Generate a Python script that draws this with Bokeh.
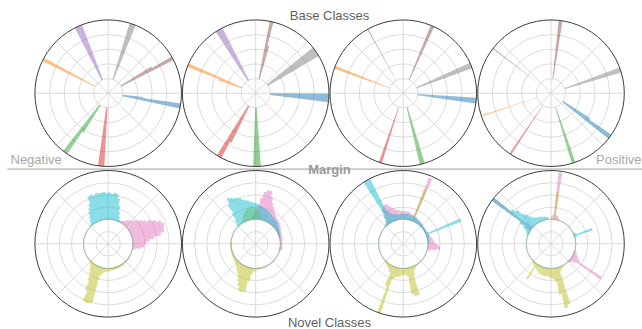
import numpy as np
from bokeh.plotting import figure
from bokeh.models import Range1d, Label
from bokeh.embed import file_html
from bokeh.resources import INLINE

W, H = 642, 329
FONT = "Liberation Sans"

# ---------------- data ----------------
base_class_names = ["blue", "orange", "green", "red", "purple", "brown", "gray"]
base_class_colors = ["#1f77b4", "#ff7f0e", "#2ca02c", "#d62728", "#9467bd", "#8c564b", "#7f7f7f"]
novel_class_names = ["pink", "olive", "cyan"]
novel_class_colors = ["#e377c2", "#bcbd22", "#17becf"]

# base classes: (class, start angle [deg], end angle [deg], outer radius)
base_margin_1 = [
    ("blue", -12, -8, 1.0), ("blue", -8, -6, 0.48),
    ("orange", 151, 154, 1.0),
    ("green", 232, 236, 1.0), ("green", 236, 238, 0.64),
    ("red", 262, 267, 1.0),
    ("purple", 111, 117, 1.0),
    ("brown", 27, 30, 1.0), ("brown", 30, 32, 0.69),
    ("gray", 68, 73, 1.0),
]
base_margin_2 = [
    ("blue", -7, -0.5, 1.0),
    ("orange", 156, 159, 1.0), ("orange", 159, 161, 0.54),
    ("green", 268, 274, 1.0),
    ("red", 238, 242, 1.0), ("red", 242, 244, 0.75),
    ("purple", 117, 123, 1.0),
    ("brown", 74, 76, 0.67), ("brown", 76, 79, 1.0),
    ("gray", 30.5, 38.5, 1.0),
]
base_margin_3 = [
    ("blue", -8, -3.5, 1.0),
    ("orange", 158, 160.5, 1.0),
    ("green", 283, 287, 1.0),
    ("red", 250.5, 253, 1.0),
    ("purple", 118.5, 119.5, 1.0),
    ("brown", 65, 68, 1.0),
    ("gray", 20, 24.5, 1.0),
]
base_margin_4 = [
    ("blue", -38.5, -34.5, 1.0), ("blue", -34.5, -32.5, 0.64),
    ("orange", 197.5, 198.5, 1.0),
    ("green", -73.5, -70.5, 1.0),
    ("red", 235.5, 237, 1.0),
    ("purple", 141.8, 142.8, 1.0),
    ("brown", 81, 84, 1.0),
    ("gray", 16.5, 20.5, 1.0),
]

# novel classes: histograms in 3-degree bins, (first bin start [deg], outer radii)
pink_1 = [(-15, [0.35, 0.38, 0.45, 0.49, 0.50, 0.52, 0.56, 0.63, 0.73, 0.78, 0.79, 0.81, 0.78, 0.72,
                 0.66, 0.60, 0.56, 0.52, 0.49, 0.46, 0.44, 0.42, 0.40, 0.38, 0.37, 0.36, 0.35])]
olive_1 = [(222, [0.35, 0.36, 0.38, 0.40, 0.44, 0.49, 0.57, 0.70, 0.85, 0.86, 0.84, 0.44, 0.41, 0.39,
                  0.38, 0.38, 0.37, 0.37, 0.36, 0.37, 0.36, 0.36, 0.37, 0.36, 0.36, 0.36, 0.35, 0.36,
                  0.35, 0.35, 0.35, 0.35, 0.35, 0.35, 0.35, 0.35])]
cyan_1 = [(63, [0.36, 0.40, 0.46, 0.54, 0.63, 0.69, 0.70, 0.68, 0.70, 0.69, 0.71, 0.70, 0.70, 0.71,
                0.69, 0.71, 0.70, 0.60, 0.55, 0.50, 0.45, 0.41, 0.37, 0.35])]

pink_2 = [(-18, [0.35, 0.36, 0.37, 0.37, 0.36, 0.37, 0.37, 0.36, 0.37, 0.37, 0.38, 0.37, 0.38, 0.38,
                 0.38, 0.39, 0.40, 0.41, 0.42, 0.43, 0.43, 0.44, 0.45, 0.46, 0.48, 0.50, 0.53, 0.56,
                 0.60, 0.67, 0.75, 0.75, 0.72, 0.63, 0.53, 0.47, 0.43, 0.40, 0.37])]
olive_2 = [(78, [0.40, 0.44, 0.47, 0.49, 0.50, 0.51, 0.51, 0.50, 0.50, 0.48, 0.46, 0.44, 0.41, 0.38, 0.36]),
           (177, [0.35, 0.35, 0.35, 0.35, 0.35, 0.35, 0.35, 0.36, 0.35, 0.36, 0.36, 0.36, 0.37, 0.37,
                  0.38, 0.38, 0.39, 0.41, 0.43, 0.45, 0.47, 0.51, 0.56, 0.62, 0.68, 0.69, 0.67, 0.52,
                  0.42, 0.38, 0.37, 0.36, 0.36, 0.35, 0.35, 0.35, 0.35, 0.35])]
cyan_2 = [(15, [0.35, 0.36, 0.36, 0.37, 0.37, 0.38, 0.38, 0.39, 0.40, 0.41, 0.42, 0.42, 0.43, 0.44,
                0.44, 0.45, 0.46, 0.47, 0.48, 0.49, 0.50, 0.51, 0.52, 0.54, 0.55, 0.56, 0.57, 0.58,
                0.60, 0.61, 0.63, 0.66, 0.67, 0.69, 0.71, 0.73, 0.65, 0.52, 0.43, 0.37])]

pink_3 = [(-15, [0.38, 0.45, 0.51, 0.50, 0.46, 0.43, 0.42, 0.41, 0.40, 0.39, 0.38, 0.37, 0.37, 0.36,
                 0.36, 0.36, 0.36, 0.36, 0.36, 0.36, 0.37, 0.37, 0.38, 0.38, 0.39, 0.40, 0.41, 0.97,
                 0.42, 0.42, 0.43, 0.44, 0.44, 0.45, 0.44, 0.45, 0.45, 0.46, 0.47, 0.48, 0.51, 0.54,
                 0.58, 0.59, 0.58, 0.55, 0.45, 0.38, 0.36])]
olive_3 = [(66, [0.80]),
           (222, [0.35, 0.36, 0.36, 0.37, 0.38, 0.39, 0.41, 0.43, 0.62, 1.0, 0.50, 0.47, 0.46, 0.45,
                  0.44, 0.43, 0.43, 0.42, 0.45, 0.70, 0.73, 0.73, 0.45, 0.39, 0.37, 0.36, 0.35, 0.35])]
cyan_3 = [(0, [0.35, 0.35, 0.36, 0.36, 0.36, 0.37, 0.37, 0.85, 0.37, 0.36, 0.36, 0.36, 0.36, 0.36,
               0.37, 0.37, 0.37, 0.38, 0.38, 0.38, 0.39, 0.39, 0.40, 0.40, 0.40, 0.40, 0.41, 0.41,
               0.41, 0.41, 0.41, 0.41, 0.40, 0.41, 0.42, 0.42, 0.43, 0.45, 0.50, 1.0, 1.0, 0.48,
               0.40, 0.37, 0.36, 0.35])]

pink_4 = [(-45, [0.36, 0.38, 0.42, 0.83, 0.46, 0.42, 0.40, 0.38, 0.37, 0.36]),
          (72, [0.37, 0.39, 0.40, 0.98, 0.40, 0.38]),
          (138, [0.45, 1.0, 0.42])]
olive_4 = [(81, [0.71]),
           (222, [0.35, 0.36, 0.37, 0.38, 0.58, 0.39, 0.41, 0.42, 0.43, 0.44, 0.44, 0.45, 0.45, 0.44,
                  0.45, 0.46, 0.47, 0.48, 0.52, 0.70, 0.90, 0.86, 0.40, 0.37, 0.36, 0.35])]
cyan_4 = [(15, [0.37, 0.60, 0.37]),
          (96, [0.37, 0.37, 0.38, 0.38, 0.39, 0.40, 0.40, 0.41, 0.42, 0.43, 0.47, 0.52, 0.56, 0.65,
                0.71, 1.0, 0.52, 0.44, 0.40, 0.37, 0.36])]

base_panels = [base_margin_1, base_margin_2, base_margin_3, base_margin_4]
novel_panels = [
    {"pink": pink_1, "olive": olive_1, "cyan": cyan_1},
    {"pink": pink_2, "olive": olive_2, "cyan": cyan_2},
    {"pink": pink_3, "olive": olive_3, "cyan": cyan_3},
    {"pink": pink_4, "olive": olive_4, "cyan": cyan_4},
]

BIN_DEG = 3.0
BASE_ORIGIN = 0.2
NOVEL_ORIGIN = 1.0 / 3.0
BASE_RINGS = [0.2, 0.4, 0.6, 0.8]
NOVEL_RINGS = [1 / 6, 2 / 6, 3 / 6, 4 / 6, 5 / 6]
SPOKES = [0, 45, 90, 135, 180, 225, 270, 315]

# ---------------- layout ----------------
COL_X = [107.7, 255.2, 402.8, 550.5]
TOP_Y = H - 92.7
BOT_Y = H - 243.3
RADIUS = 73.3

p = figure(width=W, height=H, x_range=Range1d(0, W), y_range=Range1d(0, H),
           output_backend="svg", toolbar_location=None,
           x_axis_type=None, y_axis_type=None, min_border=0)
p.xgrid.visible = False
p.ygrid.visible = False
p.outline_line_color = None
p.background_fill_color = "white"
p.border_fill_color = "white"


def outline(cx, cy, r0, bins):
    xs, ys = [], []
    for a0, a1, r in bins:
        n = max(2, int(np.ceil(abs(a1 - a0) / 0.5)) + 1)
        t = np.radians(np.linspace(a0, a1, n))
        xs.extend(cx + RADIUS * r * np.cos(t))
        ys.extend(cy + RADIUS * r * np.sin(t))
    a_start, a_end = bins[0][0], bins[-1][1]
    n = max(2, int(np.ceil(abs(a_end - a_start) / 0.5)) + 1)
    t = np.radians(np.linspace(a_end, a_start, n))
    xs.extend(cx + RADIUS * r0 * np.cos(t))
    ys.extend(cy + RADIUS * r0 * np.sin(t))
    return [float(v) for v in xs], [float(v) for v in ys]


def draw_grid(cx, cy, rings):
    p.circle(x=[cx] * len(rings), y=[cy] * len(rings), radius=[RADIUS * r for r in rings],
             fill_color=None, line_color="#d2d2d2", line_width=0.8)
    t = np.radians(SPOKES)
    p.segment(x0=[cx] * len(SPOKES), y0=[cy] * len(SPOKES),
              x1=list(cx + RADIUS * np.cos(t)), y1=list(cy + RADIUS * np.sin(t)),
              line_color="#d2d2d2", line_width=0.8)


def draw_border(cx, cy):
    p.circle(x=[cx], y=[cy], radius=[RADIUS], fill_color=None,
             line_color="#3c3c3c", line_width=1.0)


# top row: base classes
for cx, panel in zip(COL_X, base_panels):
    draw_grid(cx, TOP_Y, BASE_RINGS)
    for name, color in zip(base_class_names, base_class_colors):
        bins = sorted([(a0, a1, r) for (c, a0, a1, r) in panel if c == name])
        if not bins:
            continue
        xs, ys = outline(cx, TOP_Y, BASE_ORIGIN, bins)
        p.patch(xs, ys, fill_color=color, fill_alpha=0.5, line_color=None)
    draw_border(cx, TOP_Y)

# bottom row: novel classes
for cx, panel in zip(COL_X, novel_panels):
    draw_grid(cx, BOT_Y, NOVEL_RINGS)
    for name, color in zip(novel_class_names, novel_class_colors):
        p.annulus(x=[cx], y=[BOT_Y], inner_radius=RADIUS * NOVEL_ORIGIN,
                  outer_radius=RADIUS * (NOVEL_ORIGIN + 0.012),
                  fill_color=color, fill_alpha=0.3, line_color=None)
        xs_all, ys_all = [], []
        for start, heights in panel[name]:
            bins = [(start + i * BIN_DEG, start + (i + 1) * BIN_DEG, h) for i, h in enumerate(heights)]
            xs, ys = outline(cx, BOT_Y, NOVEL_ORIGIN, bins)
            xs_all.append(xs)
            ys_all.append(ys)
        p.patches(xs_all, ys_all, fill_color=color, fill_alpha=0.5, line_color=None)
    draw_border(cx, BOT_Y)

# separator line and texts
p.segment(x0=[7], y0=[H - 168.6], x1=[W], y1=[H - 168.6], line_color="#c8c8c8", line_width=1.6)

p.add_layout(Label(x=329, y=H - 15.3, text="Base Classes", text_align="center",
                   text_baseline="alphabetic", text_font=FONT, text_font_size="13px",
                   text_color="#5f5f5f"))
p.add_layout(Label(x=329, y=H - 321.5, text="Novel Classes", text_align="center",
                   text_baseline="alphabetic", text_font=FONT, text_font_size="13px",
                   text_color="#5f5f5f"))
p.add_layout(Label(x=10, y=H - 159.3, text="Negative", text_align="left",
                   text_baseline="alphabetic", text_font=FONT, text_font_size="13px",
                   text_color="#a8a8a8"))
p.add_layout(Label(x=641, y=H - 159.3, text="Positive", text_align="right",
                   text_baseline="alphabetic", text_font=FONT, text_font_size="13px",
                   text_color="#a8a8a8"))
p.add_layout(Label(x=329, y=H - 169.3, text="Margin", text_align="center",
                   text_baseline="alphabetic", text_font=FONT, text_font_size="13px",
                   text_font_style="bold", text_color="#9a9a9a"))

open("out.html", "w").write(file_html(p, INLINE))
